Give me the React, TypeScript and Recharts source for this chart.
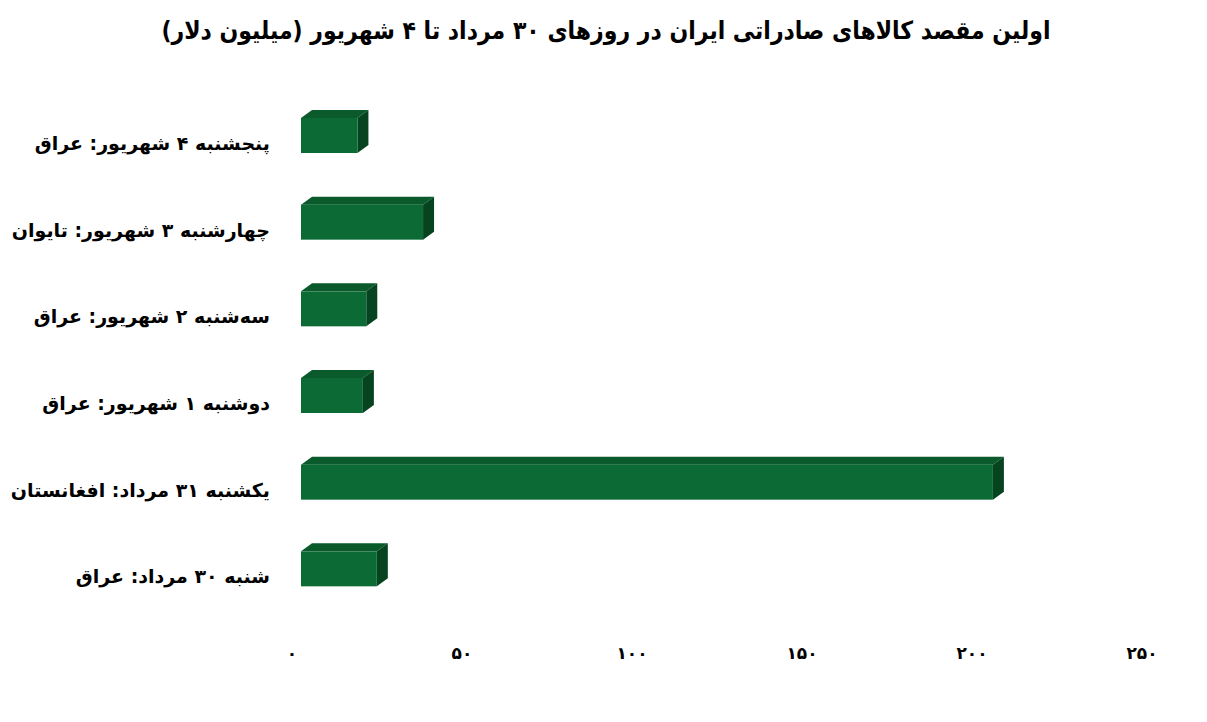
import React from 'react';
import { BarChart, Bar, XAxis, YAxis } from 'recharts';

// top to bottom, as drawn
const DAYS = [
  'پنجشنبه ۴ شهریور: عراق',
  'چهارشنبه ۳ شهریور: تایوان',
  'سه‌شنبه ۲ شهریور: عراق',
  'دوشنبه ۱ شهریور: عراق',
  'یکشنبه ۳۱ مرداد: افغانستان',
  'شنبه ۳۰ مرداد: عراق',
];
const EXPORTS = [16.6, 35.9, 19.2, 18.2, 203.5, 22.3];
const X_TICKS = [0, 50, 100, 150, 200, 250];

const data = DAYS.map((name, i) => ({ name, value: EXPORTS[i] }));

const FONT = '"DejaVu Sans", sans-serif';
const toFa = (n: number) => String(n).replace(/\d/g, (d) => '۰۱۲۳۴۵۶۷۸۹'[Number(d)]);

// excel-like 3d box: front face pushed forward, top and side faces behind
const Box3D = (props: any) => {
  const { x, y, width, height } = props;
  if (!width || width <= 0) return null;
  const fx = x + 9;
  const fy = y - 8;
  const dx = 11;
  const dy = 8;
  return (
    <g>
      <polygon
        points={`${fx},${fy} ${fx + width},${fy} ${fx + width + dx},${fy - dy} ${fx + dx},${fy - dy}`}
        fill="#0b5a2c"
      />
      <polygon
        points={`${fx + width},${fy} ${fx + width + dx},${fy - dy} ${fx + width + dx},${fy + height - dy} ${fx + width},${fy + height}`}
        fill="#06441f"
      />
      <rect x={fx} y={fy} width={width} height={height} fill="#0c6a35" />
    </g>
  );
};

export default function App() {
  return (
    <div style={{ position: 'absolute', left: 0, top: 0, width: 1207, height: 722, background: '#fff' }}>
      <div
        dir="rtl"
        style={{
          position: 'absolute',
          top: 16,
          left: 0,
          width: 1212,
          textAlign: 'center',
          fontFamily: FONT,
          fontWeight: 'bold',
          fontSize: 25,
          color: '#000',
          transform: 'scaleX(0.88)',
        }}
      >
        اولین مقصد کالاهای صادراتی ایران در روزهای ۳۰ مرداد تا ۴ شهریور (میلیون دلار)
      </div>
      <BarChart
        width={1207}
        height={722}
        data={data}
        layout="vertical"
        margin={{ top: 100, right: 65, bottom: 42, left: 0 }}
        barCategoryGap="30%"
      >
        <XAxis
          type="number"
          domain={[0, 250]}
          ticks={X_TICKS}
          axisLine={false}
          tickLine={false}
          tickSize={0}
          tickMargin={27}
          height={60}
          tickFormatter={toFa}
          tick={{ fill: '#000', fontSize: 17, fontWeight: 'bold', fontFamily: FONT }}
        />
        <YAxis
          type="category"
          dataKey="name"
          width={292}
          axisLine={false}
          tickLine={false}
          tickSize={0}
          tickMargin={22}
          tick={{ fill: '#000', fontSize: 19, fontWeight: 'bold', fontFamily: FONT }}
        />
        <Bar dataKey="value" shape={<Box3D />} isAnimationActive={false} />
      </BarChart>
    </div>
  );
}
